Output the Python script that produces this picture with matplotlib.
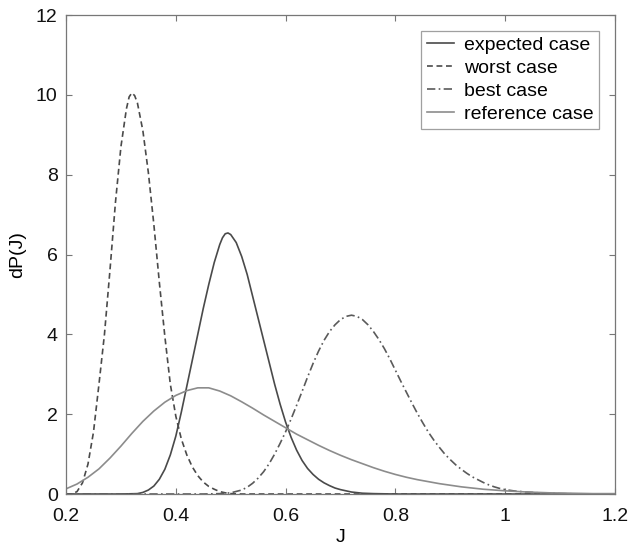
import matplotlib
matplotlib.use("Agg")
import matplotlib.pyplot as plt

plt.rcParams['font.family'] = ['Liberation Sans', 'DejaVu Sans']

# ---- data ----
worst_x = [0.20, 0.21, 0.22, 0.23, 0.24, 0.25, 0.26, 0.27, 0.28, 0.29, 0.30, 0.31,
           0.315, 0.32, 0.325, 0.33, 0.34, 0.35, 0.36, 0.37, 0.38, 0.39, 0.40, 0.41,
           0.42, 0.43, 0.44, 0.45, 0.46, 0.47, 0.48, 0.49, 0.50, 0.52, 0.60, 0.80,
           1.00, 1.20]
worst_y = [0.0, 0.0, 0.06, 0.28, 0.75, 1.55, 2.75, 4.0, 5.6, 7.3, 8.7, 9.65,
           9.95, 10.05, 9.98, 9.8, 9.1, 8.05, 6.75, 5.3, 3.95, 2.75, 1.95, 1.38,
           0.98, 0.68, 0.46, 0.3, 0.19, 0.12, 0.06, 0.03, 0.01, 0.0, 0.0, 0.0,
           0.0, 0.0]

expected_x = [0.20, 0.30, 0.33, 0.34, 0.35, 0.36, 0.37, 0.38, 0.39, 0.40, 0.41, 0.42,
              0.43, 0.44, 0.45, 0.46, 0.47, 0.48, 0.485, 0.49, 0.495, 0.50, 0.51, 0.52,
              0.53, 0.54, 0.55, 0.56, 0.57, 0.58, 0.59, 0.60, 0.61, 0.62, 0.63, 0.64,
              0.65, 0.66, 0.67, 0.68, 0.69, 0.70, 0.72, 0.74, 0.76, 0.80, 1.00, 1.20]
expected_y = [0.0, 0.0, 0.01, 0.04, 0.1, 0.2, 0.37, 0.62, 0.98, 1.45, 2.05, 2.7,
              3.35, 4.0, 4.65, 5.25, 5.8, 6.25, 6.42, 6.52, 6.54, 6.5, 6.3, 5.95,
              5.5, 4.95, 4.4, 3.85, 3.3, 2.75, 2.25, 1.8, 1.42, 1.1, 0.84, 0.64,
              0.49, 0.37, 0.28, 0.21, 0.15, 0.11, 0.05, 0.02, 0.01, 0.0, 0.0, 0.0]

best_x = [0.20, 0.30, 0.40, 0.45, 0.48, 0.50, 0.52, 0.53, 0.54, 0.55, 0.56, 0.57,
          0.58, 0.59, 0.60, 0.61, 0.62, 0.63, 0.64, 0.65, 0.66, 0.67, 0.68, 0.69,
          0.70, 0.71, 0.72, 0.73, 0.74, 0.75, 0.76, 0.77, 0.78, 0.79, 0.80, 0.81,
          0.82, 0.83, 0.84, 0.85, 0.86, 0.87, 0.88, 0.89, 0.90, 0.91, 0.92, 0.93,
          0.94, 0.95, 0.96, 0.97, 0.98, 0.99, 1.00, 1.02, 1.04, 1.06, 1.08, 1.10,
          1.15, 1.20]
best_y = [0.0, 0.0, 0.0, 0.0, 0.01, 0.03, 0.1, 0.17, 0.27, 0.4, 0.56, 0.76,
          1.0, 1.27, 1.56, 1.88, 2.22, 2.57, 2.93, 3.27, 3.58, 3.85, 4.07, 4.24,
          4.37, 4.45, 4.48, 4.45, 4.37, 4.24, 4.07, 3.87, 3.64, 3.38, 3.1, 2.82,
          2.55, 2.28, 2.02, 1.78, 1.55, 1.35, 1.17, 1.0, 0.86, 0.73, 0.62, 0.52,
          0.43, 0.36, 0.29, 0.23, 0.18, 0.14, 0.11, 0.07, 0.05, 0.03, 0.02, 0.01,
          0.0, 0.0]

ref_x = [0.20, 0.22, 0.24, 0.26, 0.28, 0.30, 0.32, 0.34, 0.36, 0.38, 0.40, 0.42,
         0.44, 0.46, 0.48, 0.50, 0.52, 0.54, 0.56, 0.58, 0.60, 0.62, 0.64, 0.66,
         0.68, 0.70, 0.72, 0.74, 0.76, 0.78, 0.80, 0.82, 0.84, 0.86, 0.88, 0.90,
         0.92, 0.94, 0.96, 0.98, 1.00, 1.04, 1.08, 1.12, 1.16, 1.20]
ref_y = [0.13, 0.25, 0.42, 0.63, 0.9, 1.2, 1.52, 1.82, 2.08, 2.3, 2.47, 2.59,
         2.66, 2.66, 2.58, 2.46, 2.31, 2.15, 1.98, 1.82, 1.66, 1.5, 1.36, 1.22,
         1.09, 0.97, 0.86, 0.76, 0.66, 0.57, 0.49, 0.42, 0.36, 0.31, 0.26, 0.22,
         0.18, 0.15, 0.12, 0.1, 0.08, 0.05, 0.03, 0.02, 0.01, 0.01]

x_ticks = [0.2, 0.4, 0.6, 0.8, 1.0, 1.2]
x_tick_labels = ["0.2", "0.4", "0.6", "0.8", "1", "1.2"]
y_ticks = [0, 2, 4, 6, 8, 10, 12]
y_tick_labels = ["0", "2", "4", "6", "8", "10", "12"]

fig = plt.figure(figsize=(6.3, 5.46), dpi=100)
ax = fig.add_axes([0.1048, 0.0952, 0.8714, 0.8773])

kw = dict(lw=1.2, solid_joinstyle='round', dash_joinstyle='round')
ax.plot(expected_x, expected_y, color='#4a4a4a', ls='-', label='expected case', **kw)
ax.plot(worst_x, worst_y, color='#4a4a4a', ls=(0, (3.5, 2.2)), label='worst case', **kw)
ax.plot(best_x, best_y, color='#5a5a5a', ls=(0, (5, 2, 1, 2)), label='best case', **kw)
ax.plot(ref_x, ref_y, color='#8c8c8c', ls='-', label='reference case', **kw)

ax.set_xlim(0.2, 1.2)
ax.set_ylim(0, 12)
ax.set_xticks(x_ticks)
ax.set_xticklabels(x_tick_labels)
ax.set_yticks(y_ticks)
ax.set_yticklabels(y_tick_labels)
ax.tick_params(direction='in', length=4, width=0.8, colors='#777777',
               labelcolor='#111111', labelsize=14, top=True, right=True)
ax.tick_params(axis='x', pad=10)
ax.tick_params(axis='y', pad=6)
for s in ax.spines.values():
    s.set_color('#777777')
    s.set_linewidth(0.9)

ax.set_xlabel('J', fontsize=14, labelpad=3)
ax.set_ylabel('dP(J)', fontsize=14, labelpad=7)

leg = ax.legend(loc='upper right', fontsize=14, frameon=True, fancybox=False,
                handlelength=1.4, handletextpad=0.5, labelspacing=0.28,
                borderpad=0.3, borderaxespad=0.8)
leg.get_frame().set_edgecolor('#888888')
leg.get_frame().set_linewidth(0.9)

fig.savefig('out.png', dpi=100)
